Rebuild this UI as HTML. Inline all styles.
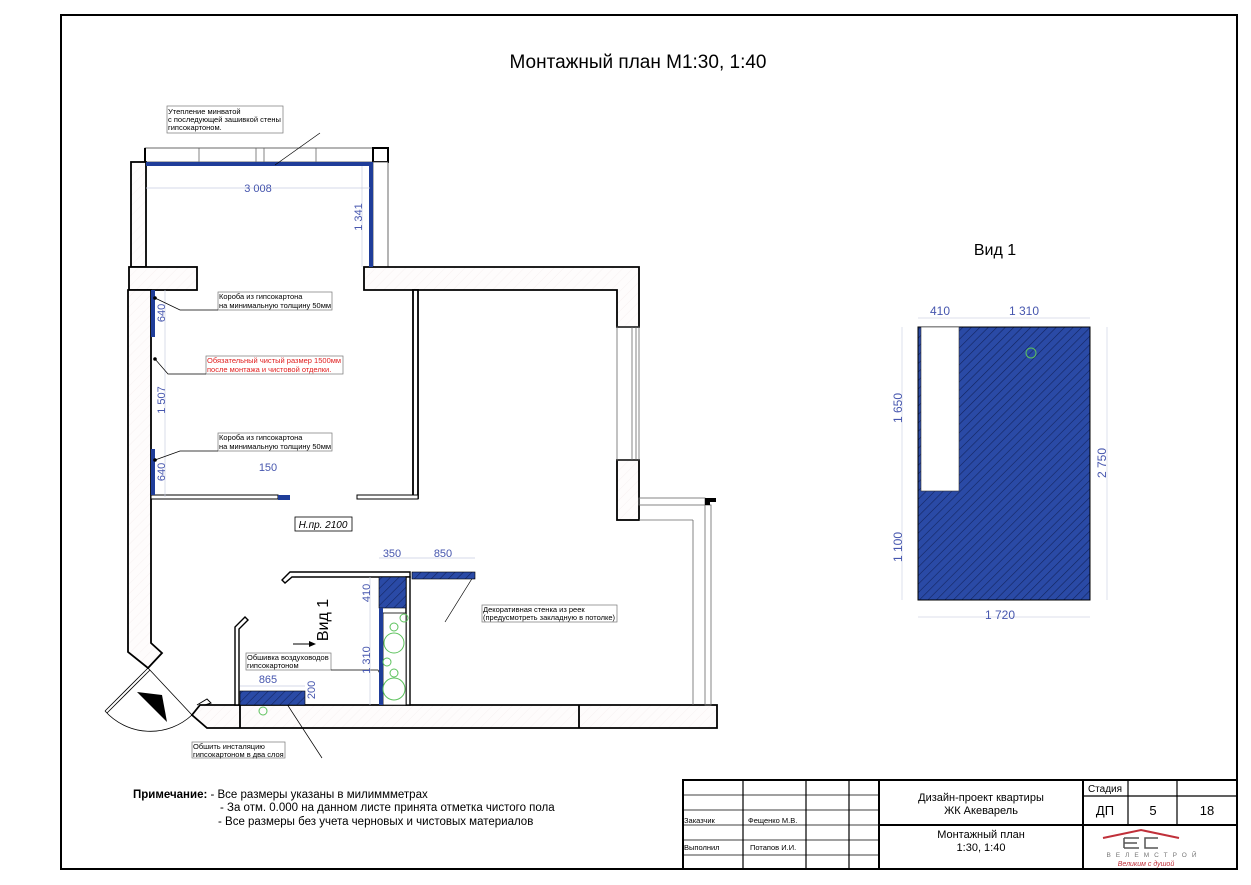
<!DOCTYPE html>
<html><head><meta charset="utf-8"><style>
html,body{margin:0;padding:0;background:#fff}
svg{display:block}
text{font-family:"Liberation Sans",sans-serif}
</style></head><body>
<svg width="1251" height="885" viewBox="0 0 1251 885" xmlns="http://www.w3.org/2000/svg">
<defs>
<pattern id="hb" width="6" height="6" patternUnits="userSpaceOnUse" patternTransform="rotate(45)">
<rect width="6" height="6" fill="#2a4aa6"/><line x1="0" y1="0" x2="0" y2="6" stroke="#13245e" stroke-width="1.2"/>
</pattern>
<pattern id="hw" width="7" height="7" patternUnits="userSpaceOnUse" patternTransform="rotate(45)">
<rect width="7" height="7" fill="#fefcfc"/><line x1="0" y1="0" x2="0" y2="7" stroke="#f3ebeb" stroke-width="0.6"/>
</pattern>
</defs>
<rect x="61" y="15" width="1176" height="854" fill="none" stroke="#000" stroke-width="2"/>
<text x="638" y="68" font-size="19" text-anchor="middle">Монтажный план М1:30, 1:40</text>

<g stroke="#000" stroke-width="1.8" fill="url(#hw)">
<rect x="145" y="148" width="228" height="14" fill="none" stroke-width="0.8" stroke="#444"/>
<path d="M145 148 V162" stroke-width="2"/>
<rect x="373" y="148" width="15" height="14" fill="#fff" stroke-width="2"/>
<rect x="131" y="162" width="15" height="105"/>
<rect x="373" y="162" width="15" height="105" fill="#fff" stroke-width="0.8" stroke="#444"/>
<rect x="129" y="267" width="68" height="23"/>
<path d="M364 267 H639 V327 H617 V290 H364 Z"/>
<path d="M128 290 H151 V643 L162 653 L148 668 L128 652 Z"/>
<rect x="617" y="460" width="22" height="60"/>
<path d="M200 705 H717 V728 H207 L192 715 Z"/>
<path d="M240 705 V728 M579 705 V728" fill="none"/>
<rect x="413" y="290" width="5" height="208" fill="#fff"/>
<rect x="151" y="495" width="127" height="4" fill="#fff" stroke-width="1"/>
<rect x="357" y="495" width="61" height="4" fill="#fff" stroke-width="1"/>
</g>
<g stroke="#666" stroke-width="0.8" fill="none">
<rect x="617" y="327" width="22" height="133"/>
<line x1="632" y1="327" x2="632" y2="460"/><line x1="636" y1="327" x2="636" y2="460"/>
<rect x="639" y="498" width="66" height="7"/>
<line x1="639" y1="520" x2="693" y2="520"/>
<line x1="693" y1="520" x2="693" y2="705"/>
<rect x="705" y="505" width="6" height="200"/>
<line x1="316" y1="148" x2="316" y2="162"/><line x1="199" y1="148" x2="199" y2="162"/><line x1="256" y1="148" x2="256" y2="162"/><line x1="264" y1="148" x2="264" y2="162"/>
</g>
<path d="M705 498 H716 V502 H710 V505 H705 Z" fill="#000"/>
<g fill="#1f3d99">
<rect x="146" y="162" width="227" height="4"/>
<rect x="369" y="162" width="4" height="105"/>
<rect x="151" y="290" width="4" height="47"/>
<rect x="151" y="449" width="4" height="46"/>
<rect x="278" y="495" width="12" height="5"/>
</g>
<g stroke="#c8cde0" stroke-width="0.7" fill="none">
<line x1="146" y1="188" x2="370" y2="188"/>
<line x1="362" y1="166" x2="362" y2="267"/>
<line x1="165" y1="290" x2="165" y2="497"/>
</g>
<g fill="#4656ae" font-size="11">
<text x="258" y="192" text-anchor="middle">3 008</text>
<text transform="translate(362,217) rotate(-90)" text-anchor="middle">1 341</text>
<text transform="translate(165,313) rotate(-90)" text-anchor="middle">640</text>
<text transform="translate(165,400) rotate(-90)" text-anchor="middle">1 507</text>
<text transform="translate(165,472) rotate(-90)" text-anchor="middle">640</text>
<text x="268" y="471" text-anchor="middle">150</text>
</g>
<g font-size="7.5" fill="#000">
<rect x="167" y="106" width="116" height="27" fill="none" stroke="#777" stroke-width="0.7"/>
<text x="168" y="114">Утепление минватой</text>
<text x="168" y="122">с последующей зашивкой стены</text>
<text x="168" y="130">гипсокартоном.</text>
<rect x="218" y="292" width="114" height="18" fill="none" stroke="#777" stroke-width="0.7"/>
<text x="219" y="299">Короба из гипсокартона</text>
<text x="219" y="308">на минимальную толщину 50мм</text>
<rect x="218" y="433" width="114" height="18" fill="none" stroke="#777" stroke-width="0.7"/>
<text x="219" y="440">Короба из гипсокартона</text>
<text x="219" y="449">на минимальную толщину 50мм</text>
<rect x="206" y="356" width="137" height="18" fill="none" stroke="#777" stroke-width="0.7"/>
<text x="207" y="363" fill="#e02020">Обязательный чистый размер 1500мм</text>
<text x="207" y="372" fill="#e02020">после монтажа и чистовой отделки.</text>
<rect x="246" y="653" width="85" height="17" fill="none" stroke="#777" stroke-width="0.7"/>
<text x="247" y="660">Обшивка воздуховодов</text>
<text x="247" y="668">гипсокартоном</text>
<rect x="482" y="605" width="135" height="17" fill="none" stroke="#777" stroke-width="0.7"/>
<text x="483" y="612">Декоративная стенка из реек</text>
<text x="483" y="620">(предусмотреть закладную в потолке)</text>
<rect x="192" y="742" width="93" height="16" fill="none" stroke="#777" stroke-width="0.7"/>
<text x="193" y="749">Обшить инсталяцию</text>
<text x="193" y="757">гипсокартоном в два слоя</text>
</g>
<g stroke="#000" stroke-width="0.7" fill="none">
<path d="M320 133 L275 165"/>
<path d="M155 298 L180 310 H218"/>
<path d="M155 359 L168 374 H206"/>
<path d="M155 460 L180 451 H218"/>
<path d="M331 670 H378 L381 676"/>
<path d="M445 622 L473 577"/>
<path d="M322 758 L283 698"/>
</g>
<g fill="#000"><circle cx="155" cy="298" r="1.8"/><circle cx="155" cy="359" r="1.8"/><circle cx="155" cy="460" r="1.8"/><circle cx="381" cy="676" r="1.8"/><circle cx="283" cy="698" r="1.8"/></g>
<rect x="295" y="517" width="57" height="14" fill="none" stroke="#000" stroke-width="0.8"/>
<text x="323" y="528" font-size="10" text-anchor="middle" font-style="italic">Н.пр. 2100</text>

<g stroke="#000" stroke-width="1.4" fill="#fff">
<path d="M290 572 H410 V577 H292 L285 583 L282 580 Z"/>
<path d="M235 705 V627 L245 617 L248 620 L239 629 V705 Z"/>
<rect x="406" y="577" width="4" height="128"/>
<rect x="383" y="613" width="23" height="92" stroke-width="0.8"/>
<path d="M197 705 L207 699 L211 703 L205 705" fill="none" stroke-width="1"/>
</g>
<rect x="412" y="572" width="63" height="7" fill="url(#hb)" stroke="#000" stroke-width="0.6"/>
<rect x="379" y="577" width="27" height="31" fill="url(#hb)" stroke="#000" stroke-width="0.6"/>
<rect x="379" y="608" width="4" height="97" fill="#1f3d99"/>
<rect x="240" y="691" width="65" height="14" fill="url(#hb)" stroke="#000" stroke-width="0.6"/>
<g fill="none" stroke="#5cc25c" stroke-width="1">
<circle cx="404" cy="618" r="4"/><circle cx="394" cy="627" r="4"/><circle cx="394" cy="643" r="10"/>
<circle cx="387" cy="662" r="4"/><circle cx="394" cy="673" r="4"/><circle cx="394" cy="689" r="11"/>
<circle cx="263" cy="711" r="4"/>
</g>
<g stroke="#000" stroke-width="0.8" fill="none">
<line x1="148" y1="668" x2="105" y2="711"/><line x1="150" y1="670" x2="107" y2="713"/>
<line x1="148" y1="668" x2="192" y2="715"/>
<path d="M105 711 A61 61 0 0 0 192 715"/>
</g>
<polygon points="137,692 162,695 167,722" fill="#000"/>
<text transform="translate(328,620) rotate(-90)" font-size="16" text-anchor="middle">Вид 1</text>
<path d="M293 644 H312" stroke="#000" stroke-width="1"/><polygon points="316,644 309,641 309,647" fill="#000"/>
<g stroke="#c8cde0" stroke-width="0.7" fill="none">
<line x1="379" y1="558" x2="475" y2="558"/>
<line x1="370" y1="577" x2="370" y2="705"/>
<line x1="240" y1="686" x2="305" y2="686"/>
</g>
<g fill="#4656ae" font-size="11">
<text x="392" y="557" text-anchor="middle">350</text>
<text x="443" y="557" text-anchor="middle">850</text>
<text transform="translate(370,593) rotate(-90)" text-anchor="middle">410</text>
<text transform="translate(370,660) rotate(-90)" text-anchor="middle">1 310</text>
<text x="268" y="683" text-anchor="middle">865</text>
<text transform="translate(315,690) rotate(-90)" text-anchor="middle">200</text>
</g>

<text x="995" y="255" font-size="16" text-anchor="middle">Вид 1</text>
<rect x="918" y="327" width="172" height="273" fill="url(#hb)" stroke="#000" stroke-width="1"/>
<rect x="921" y="327" width="38" height="164" fill="#fff" stroke="#333" stroke-width="0.6"/>
<circle cx="1031" cy="353" r="5" fill="none" stroke="#5cc25c" stroke-width="1"/>
<g stroke="#d0d4e4" stroke-width="0.7" fill="none">
<line x1="918" y1="318" x2="1090" y2="318"/>
<line x1="902" y1="327" x2="902" y2="600"/>
<line x1="1107" y1="327" x2="1107" y2="600"/>
<line x1="918" y1="617" x2="1090" y2="617"/>
</g>
<g fill="#4656ae" font-size="12">
<text x="940" y="315" text-anchor="middle">410</text>
<text x="1024" y="315" text-anchor="middle">1 310</text>
<text transform="translate(902,408) rotate(-90)" text-anchor="middle">1 650</text>
<text transform="translate(902,547) rotate(-90)" text-anchor="middle">1 100</text>
<text transform="translate(1106,463) rotate(-90)" text-anchor="middle">2 750</text>
<text x="1000" y="619" text-anchor="middle">1 720</text>
</g>

<g font-size="11.5">
<text x="133" y="798"><tspan font-weight="bold">Примечание:</tspan> - Все размеры указаны в милиммметрах</text>
<text x="220" y="811">- За отм. 0.000 на данном листе принята отметка чистого пола</text>
<text x="218" y="825">-  Все размеры без учета черновых и чистовых материалов</text>
</g>

<g stroke="#000" stroke-width="1.2" fill="none">
<rect x="683" y="780" width="554" height="89" stroke-width="2"/>
<line x1="743" y1="780" x2="743" y2="869"/><line x1="806" y1="780" x2="806" y2="869"/>
<line x1="849" y1="780" x2="849" y2="869"/><line x1="879" y1="780" x2="879" y2="869" stroke-width="2"/>
<line x1="1083" y1="780" x2="1083" y2="869" stroke-width="2"/>
<line x1="1128" y1="780" x2="1128" y2="825"/><line x1="1177" y1="780" x2="1177" y2="825"/>
<line x1="879" y1="825" x2="1237" y2="825" stroke-width="2"/>
<line x1="1083" y1="796" x2="1237" y2="796"/>
<g stroke-width="0.8">
<line x1="683" y1="795" x2="879" y2="795"/><line x1="683" y1="810" x2="879" y2="810"/>
<line x1="683" y1="825" x2="879" y2="825"/><line x1="683" y1="840" x2="879" y2="840"/>
<line x1="683" y1="855" x2="879" y2="855"/>
</g>
</g>
<g font-size="7.5">
<text x="684" y="823">Заказчик</text><text x="748" y="823">Фещенко М.В.</text>
<text x="684" y="850">Выполнил</text><text x="750" y="850">Потапов И.И.</text>
</g>
<g font-size="11" text-anchor="middle">
<text x="981" y="801">Дизайн-проект квартиры</text>
<text x="981" y="814">ЖК Акеварель</text>
<text x="981" y="838">Монтажный план</text>
<text x="981" y="851">1:30, 1:40</text>
<text x="1105" y="792" font-size="10">Стадия</text>
<text x="1105" y="815" font-size="13">ДП</text>
<text x="1153" y="815" font-size="13">5</text>
<text x="1207" y="815" font-size="13">18</text>
</g>
<g>
<path d="M1103 838 L1141 830 L1179 838" fill="none" stroke="#c0303a" stroke-width="2"/>
<path d="M1124 838 H1139 M1124 843 H1137 M1124 848 H1139 M1124 838 V848 M1158 838 H1145 V848 H1158" fill="none" stroke="#555" stroke-width="1.5"/>
<text x="1154" y="857" font-size="6.5" fill="#777" text-anchor="middle" letter-spacing="5">ВЕЛЕМСТРОЙ</text>
<text x="1146" y="866" font-size="7" fill="#c0303a" text-anchor="middle" font-style="italic">Великим с душой</text>
</g>
</svg>
</body></html>
